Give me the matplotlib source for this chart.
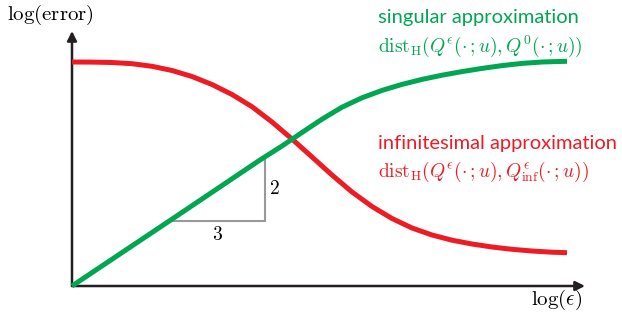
import matplotlib
matplotlib.use("Agg")
import matplotlib.pyplot as plt
import numpy as np

plt.rcParams['mathtext.fontset'] = 'cm'

# error curves, log(eps) on x, log(error) on y
green_x = [0, 0.98, 1.88, 2.1, 2.3, 2.5, 2.7, 2.9, 3.1, 3.3, 3.5, 3.7, 3.9,
           4.1, 4.3, 4.5, 4.7, 4.9, 4.95]
green_y = [0, 0.655, 1.26, 1.40, 1.535, 1.668, 1.788, 1.882, 1.956, 2.016, 2.066,
           2.108, 2.144, 2.176, 2.204, 2.226, 2.24, 2.246, 2.247]

red_x = [0, 0.2, 0.4, 0.6, 0.8, 1.0, 1.2, 1.4, 1.6, 1.8, 2.0, 2.2, 2.4, 2.6,
         2.8, 3.0, 3.2, 3.4, 3.6, 3.8, 4.0, 4.2, 4.4, 4.6, 4.8, 4.95]
red_y = [2.24, 2.239, 2.235, 2.223, 2.197, 2.155, 2.095, 2.015, 1.915, 1.793,
         1.64, 1.47, 1.29, 1.11, 0.94, 0.795, 0.675, 0.58, 0.51, 0.458, 0.42,
         0.39, 0.367, 0.35, 0.338, 0.333]

# slope triangle: run 3, rise 2
tri_x0 = 0.98
tri_run = 0.95
slope = 2 / 3

green = '#00a651'
red = '#ed1c24'
grey = '#999999'
black = '#231f20'

fig = plt.figure(figsize=(6.22, 3.2), dpi=100)
ax = fig.add_axes([72 / 622, 34 / 320, 550 / 622, 286 / 320])
ax.set_xlim(0, 5.5)
ax.set_ylim(0, 2.86)
ax.axis('off')

# axes with arrows
ax.annotate('', xy=(5.13, 0), xytext=(0, 0),
            arrowprops=dict(arrowstyle='-|>', color=black, lw=1.8,
                            mutation_scale=14, shrinkA=0, shrinkB=0),
            annotation_clip=False)
ax.annotate('', xy=(0, 2.55), xytext=(0, 0),
            arrowprops=dict(arrowstyle='-|>', color=black, lw=1.8,
                            mutation_scale=14, shrinkA=0, shrinkB=0),
            annotation_clip=False)

# triangle
ty0 = slope * tri_x0
tx1 = tri_x0 + tri_run
ty1 = slope * tx1
ax.plot([tri_x0, tx1, tx1], [ty0, ty0, ty1], color=grey, lw=1.5,
        solid_joinstyle='miter', zorder=2)
ax.text((tri_x0 + tx1) / 2, ty0 - 0.14, '$3$', fontsize=14, ha='center', va='center')
ax.text(tx1 + 0.09, (ty0 + ty1) / 2, '$2$', fontsize=14, ha='center', va='center')

ax.plot(red_x, red_y, color=red, lw=3.6, solid_capstyle='butt',
        solid_joinstyle='round', clip_on=False, zorder=3)
ax.plot(green_x, green_y, color=green, lw=3.6, solid_capstyle='butt',
        solid_joinstyle='round', clip_on=False, zorder=4)

ax.text(-0.22, 2.71, r'$\log(\mathrm{error})$', fontsize=15, ha='center', va='center')
ax.text(4.85, -0.14, r'$\log(\epsilon)$', fontsize=15, ha='center', va='center')

ax.text(3.06, 2.68, 'singular approximation', fontsize=14.5, family='Lato',
        color=green, ha='left', va='center')
ax.text(3.06, 2.40, r'$\mathrm{dist}_{\mathrm{H}}(Q^{\epsilon}(\cdot\,;u),Q^{0}(\cdot\,;u))$',
        fontsize=14, color=green, ha='left', va='center')
ax.text(3.06, 1.43, 'infinitesimal approximation', fontsize=14.5, family='Lato',
        color=red, ha='left', va='center')
ax.text(3.06, 1.14, r'$\mathrm{dist}_{\mathrm{H}}(Q^{\epsilon}(\cdot\,;u),Q^{\epsilon}_{\mathrm{inf}}(\cdot\,;u))$',
        fontsize=14, color=red, ha='left', va='center')

fig.savefig('out.png', dpi=100)
